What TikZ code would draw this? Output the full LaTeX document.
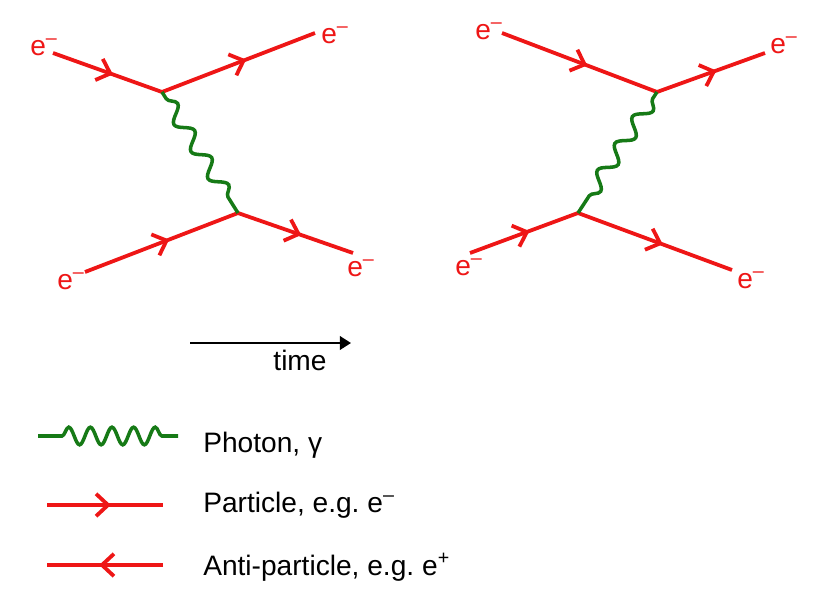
\documentclass[tikz,border=0pt]{standalone}
\usepackage{fontspec}
\setmainfont{Liberation Sans}
\usetikzlibrary{arrows.meta, decorations.pathmorphing, decorations.markings}
\definecolor{fmred}{RGB}{238, 22, 22}
\definecolor{fmgreen}{RGB}{22, 122, 22}
\frenchspacing

\begin{document}
\begin{tikzpicture}[
  x=0.025cm, y=-0.025cm,
  font=\fontsize{20}{24}\selectfont,
  fermion/.style={
    color=fmred, line width=2.7pt,
    decoration={markings,
      mark=at position 0.55 with {\arrow{Straight Barb[length=3mm, width=5.6mm]}}},
    postaction={decorate}
  },
  photon/.style={
    draw=fmgreen, line width=2.5pt,
    decoration={snake, amplitude=1.8mm, segment length=8mm,
      pre length=2mm, post length=1.5mm},
    decorate
  },
  legphoton/.style={
    draw=fmgreen, line width=2.5pt,
    decoration={snake, amplitude=2.2mm, segment length=5.4mm,
      pre length=6mm, post length=3mm},
    decorate
  },
  elabel/.style={anchor=base west, text=fmred, inner sep=0pt},
  legtext/.style={anchor=base west, inner sep=0pt},
  timearrow/.style={
    draw=black, line width=1.6pt,
    -{Triangle[length=2.8mm, width=3.4mm]}
  },
]
\useasboundingbox (0,0) rectangle (837,606);

%% ================================================================
%% LEFT DIAGRAM
%% ================================================================
\coordinate (la) at (53, 53);    % incoming, top
\coordinate (lb) at (85, 272);   % incoming, bottom
\coordinate (lv1) at (162, 92);  % top vertex
\coordinate (lv2) at (238, 213); % bottom vertex
\coordinate (lc) at (315, 33);   % outgoing, top
\coordinate (ld) at (353, 253);  % outgoing, bottom

\draw[fermion] (la) -- (lv1);
\draw[fermion] (lv1) -- (lc);
\draw[fermion] (lb) -- (lv2);
\draw[fermion] (lv2) -- (ld);
\draw[photon] (lv1) -- (lv2);

\node[elabel] (lae) at (30, 55)  {e\textsuperscript{–}};
\node[elabel] (lce) at (321, 43) {e\textsuperscript{–}};
\node[elabel] (lbe) at (57, 289) {e\textsuperscript{–}};
\node[elabel] (lde) at (347, 276) {e\textsuperscript{–}};

%% ================================================================
%% RIGHT DIAGRAM
%% ================================================================
\coordinate (ra) at (502, 33);
\coordinate (rb) at (470, 253);
\coordinate (rv1) at (657, 92);
\coordinate (rv2) at (578, 213);
\coordinate (rc) at (765, 53);
\coordinate (rd) at (732, 270);

\draw[fermion] (ra) -- (rv1);
\draw[fermion] (rv1) -- (rc);
\draw[fermion] (rb) -- (rv2);
\draw[fermion] (rv2) -- (rd);
\draw[photon] (rv1) -- (rv2);

\node[elabel] (rae) at (475, 39)  {e\textsuperscript{–}};
\node[elabel] (rce) at (770, 53)  {e\textsuperscript{–}};
\node[elabel] (rbe) at (455, 275) {e\textsuperscript{–}};
\node[elabel] (rde) at (737, 288) {e\textsuperscript{–}};

%% ================================================================
%% TIME AXIS
%% ================================================================
\coordinate (t0) at (190, 343);
\coordinate (t1) at (351, 343);
\draw[timearrow] (t0) -- (t1);
\node[anchor=base, inner sep=0pt] (time) at (300, 370) {time};

%% ================================================================
%% LEGEND
%% ================================================================
\coordinate (g0) at (38, 436);
\coordinate (g1) at (178, 436);
\draw[legphoton] (g0) -- (g1);
\node[legtext] (gtext) at (203, 452) {Photon, γ};

\coordinate (p0) at (47, 505);
\coordinate (p1) at (163, 505);
\draw[fermion] (p0) -- (p1);
\node[legtext] (ptext) at (203, 512) {Particle, e.g. e\textsuperscript{–}};

\coordinate (a0) at (47, 565);
\coordinate (a1) at (163, 565);
\draw[fermion] (a1) -- (a0);
\node[legtext] (atext) at (203, 575) {Anti-particle, e.g. e\textsuperscript{+}};

\end{tikzpicture}
\end{document}
